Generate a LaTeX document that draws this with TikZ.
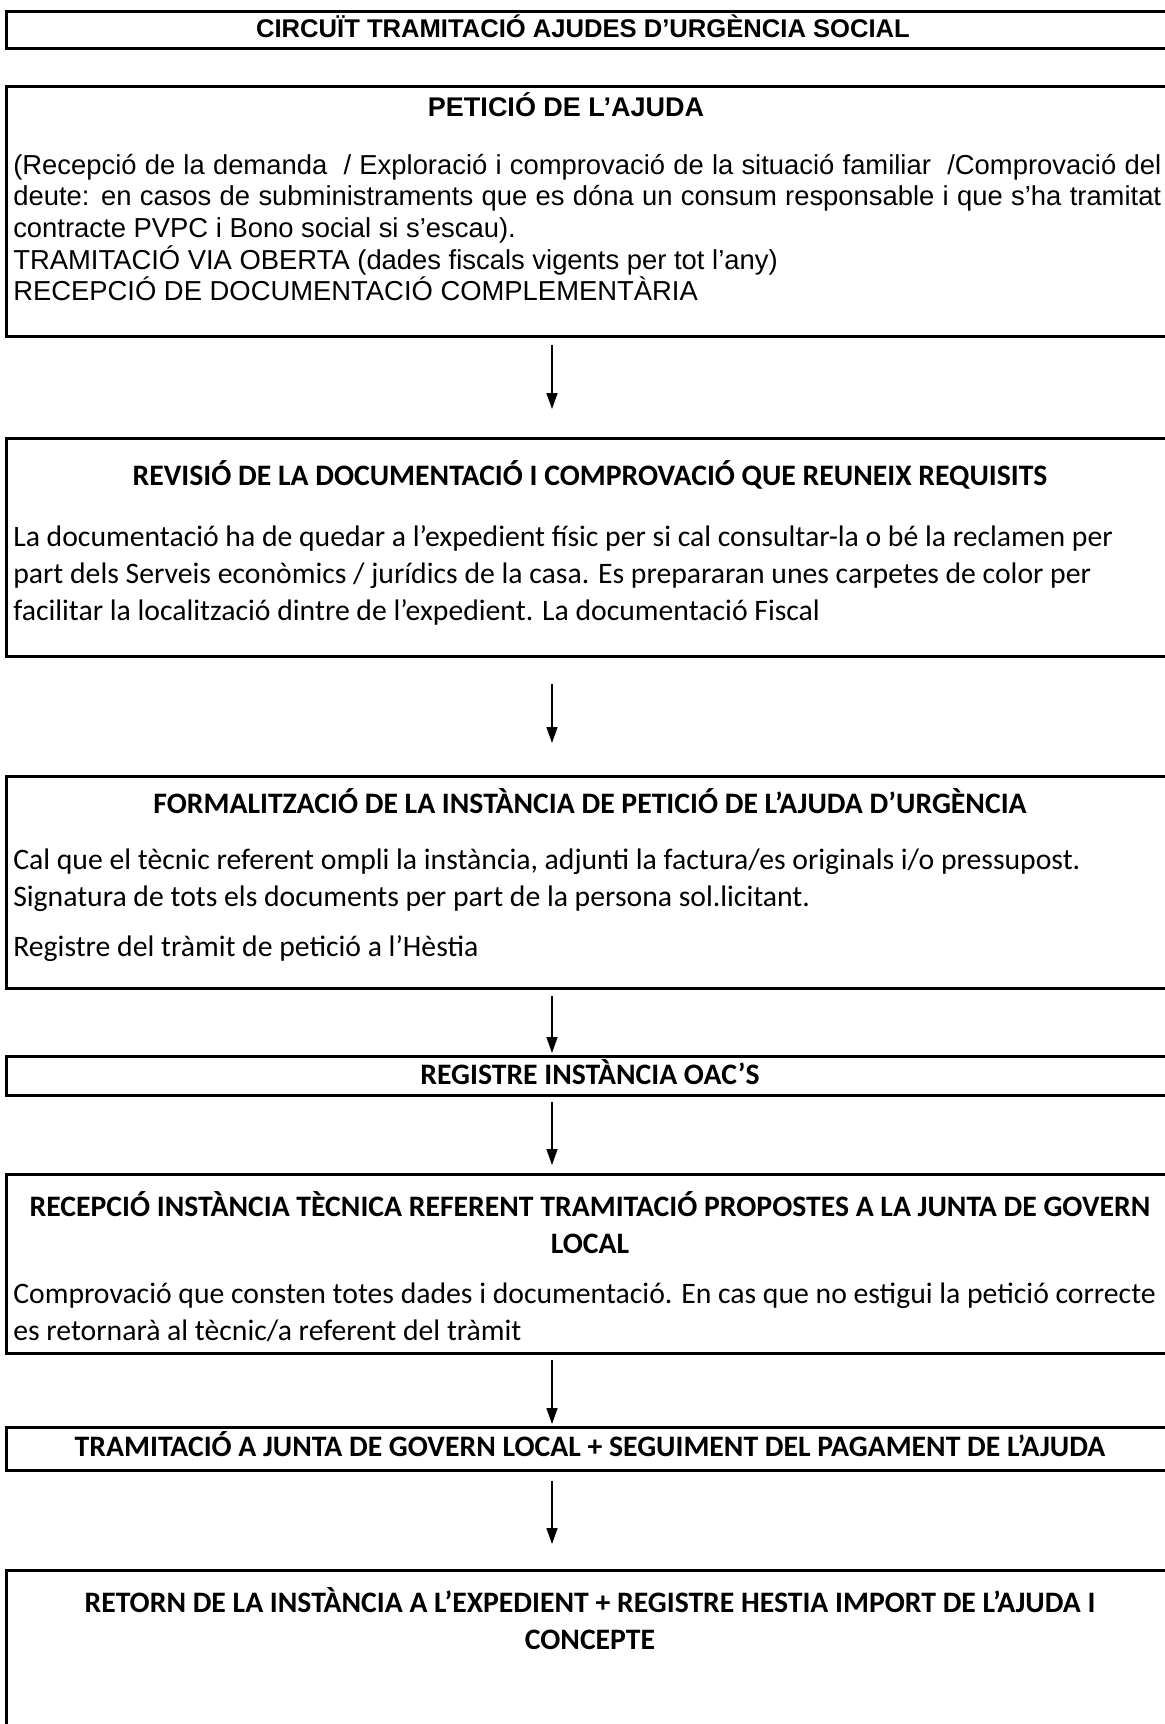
\documentclass[tikz,border=0pt]{standalone}
\usepackage{fontspec}
\newfontfamily\arialfont{Liberation Sans}
\newfontfamily\calibrifont{Carlito}
\usetikzlibrary{arrows.meta, calc}
\tikzset{
  every picture/.style={x=0.5pt, y=-0.5pt, line width=1.3pt},
  box/.style={draw, anchor=north west, minimum width=590pt, minimum height=#1, inner sep=0pt},
  head/.style={font=\calibrifont\bfseries\fontsize{14.85pt}{18.5pt}\selectfont, text width=580pt, align=flush center, anchor=base, inner sep=0pt},
  body/.style={font=\calibrifont\fontsize{14.85pt}{18.7pt}\selectfont, text width=590pt, align=flush left, anchor=base west, inner sep=0pt},
  arrow/.style={-{Triangle[length=8pt, width=5.5pt]}, line width=0.75pt},
}
\begin{document}
\begin{tikzpicture}
  \useasboundingbox (0,0) rectangle (1164,1724);
  \coordinate (ax) at (552,0);
  % title
  \node[box=18.5pt] (t0) at (5,10) {};
  \node[head, font=\arialfont\bfseries\fontsize{12.8pt}{15pt}\selectfont] (t0h) at (583,38) {CIRCUÏT TRAMITACIÓ AJUDES D’URGÈNCIA SOCIAL};
  % 1 peticio de l'ajuda
  \node[box=125pt] (b1) at (5,85) {};
  \node[head, font=\arialfont\bfseries\fontsize{13.5pt}{16pt}\selectfont] (b1h) at (566,116) {PETICIÓ DE L’AJUDA};
  \node[body, font=\arialfont\fontsize{13.7pt}{15.85pt}\selectfont, text width=574pt, align=justify] (b1t) at (12,174)
    {(Recepció de la demanda~ / Exploració i comprovació de la situació familiar~ /Comprovació del\linebreak
     deute: en casos de subministraments que es dóna un consum responsable i que s’ha tramitat\linebreak
     contracte PVPC i Bono social si s’escau).\\
     TRAMITACIÓ VIA OBERTA (dades fiscals vigents per tot l’any)\\
     RECEPCIÓ DE DOCUMENTACIÓ COMPLEMENTÀRIA};
  % 2 revisio
  \node[box=109pt] (b2) at (5,437) {};
  \node[head] (b2h) at (590,485) {REVISIÓ DE LA DOCUMENTACIÓ I COMPROVACIÓ QUE REUNEIX REQUISITS};
  \node[body] (b2t) at (12,546)
    {La documentació ha de quedar a l’expedient físic per si cal consultar-la o bé la reclamen per\\
     part dels Serveis econòmics / jurídics de la casa. Es prepararan unes carpetes de color per\\
     facilitar la localització dintre de l’expedient. La documentació Fiscal};
  % 3 formalitzacio
  \node[box=106pt] (b3) at (5,775) {};
  \node[head] (b3h) at (590,813) {FORMALITZACIÓ DE LA INSTÀNCIA DE PETICIÓ DE L’AJUDA D’URGÈNCIA};
  \node[body] (b3t) at (12,869)
    {Cal que el tècnic referent ompli la instància, adjunti la factura/es originals i/o pressupost.\\
     Signatura de tots els documents per part de la persona sol.licitant.\\[6.3pt]
     Registre del tràmit de petició a l’Hèstia};
  % 4 registre
  \node[box=19.5pt] (b4) at (5,1055) {};
  \node[head] (b4h) at (590,1084) {REGISTRE INSTÀNCIA OAC’S};
  % 5 recepcio
  \node[box=89.5pt] (b5) at (5,1173) {};
  \node[head] (b5h) at (590,1216) {RECEPCIÓ INSTÀNCIA TÈCNICA REFERENT TRAMITACIÓ PROPOSTES A LA JUNTA DE GOVERN\\ LOCAL};
  \node[body] (b5t) at (12,1303)
    {Comprovació que consten totes dades i documentació. En cas que no estigui la petició correcte\\
     es retornarà al tècnic/a referent del tràmit};
  % 6 junta de govern
  \node[box=21.5pt] (b6) at (5,1426) {};
  \node[head] (b6h) at (590,1456) {TRAMITACIÓ A JUNTA DE GOVERN LOCAL + SEGUIMENT DEL PAGAMENT DE L’AJUDA};
  % 7 retorn
  \node[box=100pt] (b7) at (5,1569) {};
  \node[head] (b7h) at (590,1612) {RETORN DE LA INSTÀNCIA A L’EXPEDIENT + REGISTRE HESTIA IMPORT DE L’AJUDA I\\ CONCEPTE};
  % arrows
  \foreach \a/\b/\s/\e in {b1/b2/7/28, b2/b3/26/32, b3/b4/6/2, b4/b5/5/8, b5/b6/5/2, b6/b7/9/25}
    \draw[arrow] ($(\a.south -| ax)+(0,\s)$) -- ($(\b.north -| ax)+(0,-\e)$);
\end{tikzpicture}
\end{document}
